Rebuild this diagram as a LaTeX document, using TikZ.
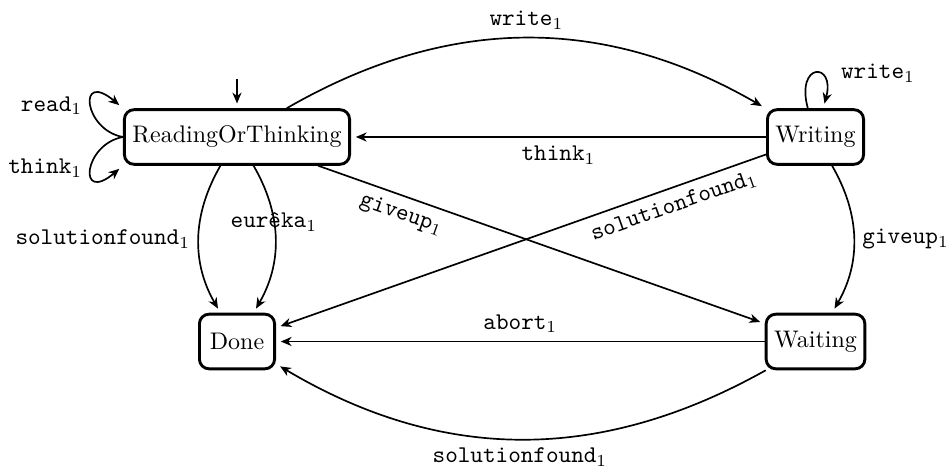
\documentclass[tikz,border=0pt]{standalone}
\usetikzlibrary{calc,arrows.meta}
\begin{document}
\begin{tikzpicture}[x=0.41667pt,y=0.41667pt,
  stbox/.style={draw, rounded corners=4pt, line width=1.2pt,
    minimum height=8mm, minimum width=11mm, inner sep=3.333pt},
  conn/.style={line width=0.7pt, -{Stealth[length=4.5pt,width=3.8pt,inset=1.4pt]}, shorten >=2pt},
  lbl/.style={font=\ttfamily}]
\useasboundingbox (0,0) rectangle (948,467);

% states
\node[stbox] (rot) at (237,330)     {ReadingOrThinking};
\node[stbox] (wri) at (815.5,330)   {Writing};
\node[stbox] (don) at (237,125.5)   {Done};
\node[stbox] (wai) at (815.5,125.5) {Waiting};

% initial arrow
\coordinate (init) at (237,388);
\draw[conn] (init) -- (rot);

% self loops on the left of ReadingOrThinking
\draw[conn] (rot.west) .. controls +(170:40) and +(140:60) .. (rot.north west)
  node[lbl,left,pos=0.5] {read$_1$};
\draw[conn] (rot.west) .. controls +(190:40) and +(220:60) .. (rot.south west)
  node[lbl,left,pos=0.5] {think$_1$};

% transitions
\draw[conn] (rot) to[bend right] node[lbl,left] {solutionfound$_1$} (don);
\draw[conn] (rot) to[bend left] node[lbl,pos=0.38] {eur\^{e}ka$_1$} (don);
\draw[conn] (rot) to[bend left] node[lbl,above] {write$_1$} (wri);
\draw[conn] (wri) to[loop above] node[lbl,right=7pt] {write$_1$} ();
\draw[conn] (wri) -- node[lbl,below] {think$_1$} (rot);
\draw[conn] (wri) -- node[lbl,sloped,below,pos=0.2] {solutionfound$_1$} (don);
\draw[conn] (rot) -- node[lbl,sloped,below,pos=0.2] {giveup$_1$} (wai);
\draw[conn] (wri) to[bend left] node[lbl,right] {giveup$_1$} (wai);
\draw[conn] (wai) -- node[lbl,above] {abort$_1$} (don);
\draw[conn] (wai) to[bend left] node[lbl,below] {solutionfound$_1$} (don);
\end{tikzpicture}
\end{document}
